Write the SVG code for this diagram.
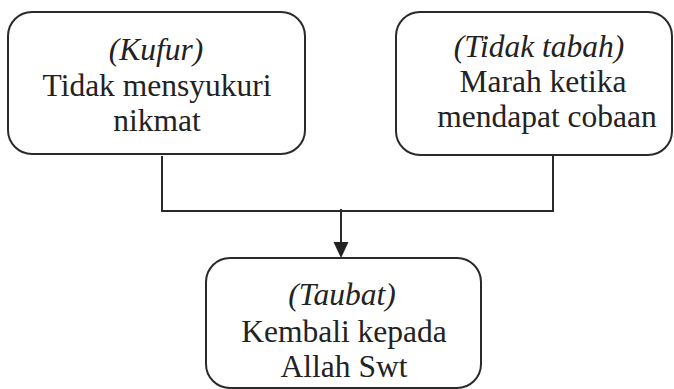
<svg xmlns="http://www.w3.org/2000/svg" width="674" height="389" viewBox="0 0 674 389">
<style>
.box{fill:#fff;stroke:#2a2a2a;stroke-width:2}
.t{font-family:"Liberation Serif","Times New Roman",serif;font-size:31.5px;fill:#222;text-anchor:middle}
.i{font-style:italic}
.c{fill:none;stroke:#2a2a2a;stroke-width:2}
</style>
<rect width="674" height="389" fill="#fff"/>
<g id="connectors">
<polyline class="c" points="162,156 162,211 553,211 553,156"/>
<line class="c" x1="341" y1="209" x2="341" y2="243" stroke-width="2.5"/>
<path d="M333.5,242 L348.5,242 L341,258 Z" fill="#222"/>
</g>
<g id="kufur">
<rect class="box" x="8" y="12" width="297" height="142" rx="24"/>
<text class="t i" x="156" y="60">(Kufur)</text>
<text class="t" x="157" y="96">Tidak mensyukuri</text>
<text class="t" x="157" y="131">nikmat</text>
</g>
<g id="tidak-tabah">
<rect class="box" x="396" y="12" width="276" height="143" rx="24"/>
<text class="t i" x="539" y="57">(Tidak tabah)</text>
<text class="t" x="543" y="92">Marah ketika</text>
<text class="t" x="547" y="127">mendapat cobaan</text>
</g>
<g id="taubat">
<rect class="box" x="206" y="258" width="275" height="130" rx="24"/>
<text class="t i" x="342" y="305">(Taubat)</text>
<text class="t" x="344" y="342">Kembali kepada</text>
<text class="t" x="344" y="377">Allah Swt</text>
</g>
</svg>
